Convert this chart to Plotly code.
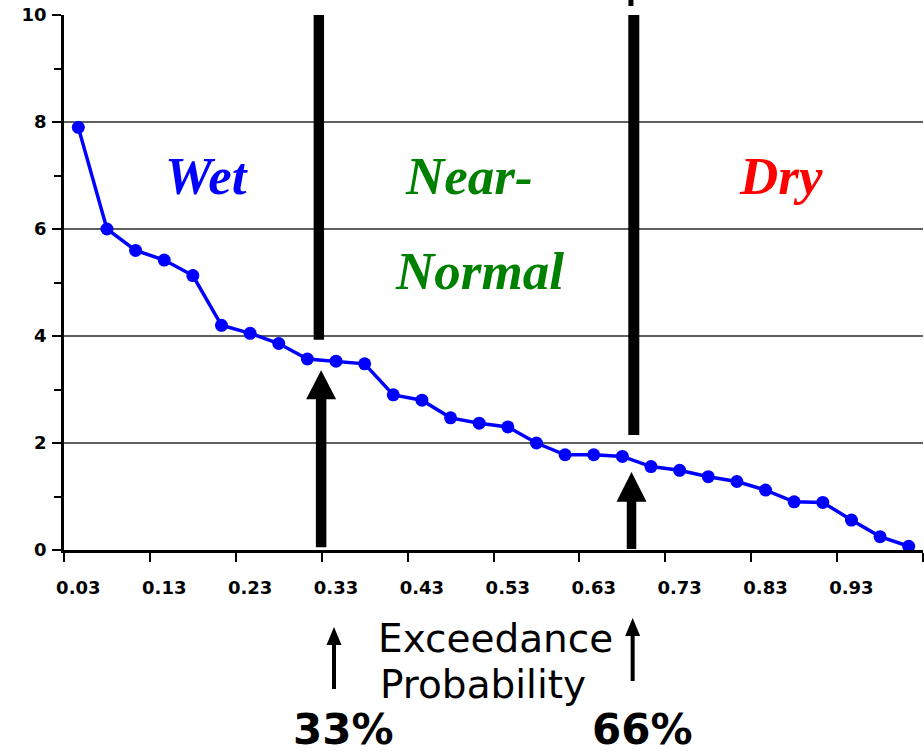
import plotly.graph_objects as go

# Ranked values, one per category (rank 1 = wettest), and probability labels
ranks = list(range(1, 31))
values = [7.9, 6.0, 5.6, 5.42, 5.13, 4.2, 4.05, 3.86, 3.57, 3.53,
          3.48, 2.9, 2.8, 2.47, 2.37, 2.3, 2.0, 1.78, 1.78, 1.75,
          1.56, 1.49, 1.37, 1.28, 1.12, 0.9, 0.89, 0.56, 0.25, 0.07]
label_ranks = list(range(1, 31, 3))
prob_labels = ["0.03", "0.13", "0.23", "0.33", "0.43",
               "0.53", "0.63", "0.73", "0.83", "0.93"]
tick_bounds = [r - 0.5 for r in range(1, 32, 3)]

# Tercile split positions (category units) and their labels
lower_split, upper_split = 9.4, 20.4
category_colors = {"Wet": "#0000FF", "Near-": "#008000",
                   "Normal": "#008000", "Dry": "#FF0000"}

W, H = 924, 755
ML, MR, MT, MB = 64, 1, 15, 205

fig = go.Figure()
fig.add_trace(go.Scatter(
    x=ranks, y=values, mode="lines+markers",
    line=dict(color="#0000FF", width=3.5),
    marker=dict(color="#0000FF", size=13),
    showlegend=False, hoverinfo="skip",
))

tick_font = dict(family="DejaVu Sans", size=18, color="black", weight=700)

fig.update_layout(
    width=W, height=H,
    margin=dict(l=ML, r=MR, t=MT, b=MB, pad=0),
    paper_bgcolor="white", plot_bgcolor="white",
    xaxis=dict(
        range=[0.5, 30.5], tickmode="array", tickvals=label_ranks,
        ticktext=prob_labels, ticks="", showgrid=False, zeroline=False,
        showline=True, linecolor="black", linewidth=2.5,
        tickfont=tick_font, ticklabelstandoff=20,
        minor=dict(tickmode="array", tickvals=tick_bounds, ticks="outside",
                   ticklen=9, tickwidth=2, tickcolor="black", showgrid=False),
    ),
    yaxis=dict(
        range=[0, 10], tickmode="array", tickvals=[0, 2, 4, 6, 8, 10],
        ticks="outside", ticklen=9, tickwidth=2, tickcolor="black",
        showgrid=True, gridcolor="#606060", gridwidth=1.5, zeroline=False,
        showline=True, linecolor="black", linewidth=2.5,
        tickfont=tick_font, ticklabelstandoff=2,
        minor=dict(dtick=1, ticks="outside", ticklen=7, tickwidth=2,
                   tickcolor="black", showgrid=False),
    ),
)

# Thick tercile divider bars
fig.add_shape(type="rect", xref="x", yref="y", xsizemode="pixel",
              xanchor=lower_split, x0=-5.2, x1=5.2, y0=3.93, y1=10,
              fillcolor="black", line_width=0)
fig.add_shape(type="rect", xref="x", yref="y", xsizemode="pixel",
              xanchor=upper_split, x0=-5.5, x1=5.5, y0=2.15, y1=10,
              fillcolor="black", line_width=0)
fig.add_shape(type="rect", xref="x", yref="paper", xsizemode="pixel",
              xanchor=upper_split - 0.1, x0=-2.5, x1=2.5,
              y0=1 + 9 / 535, y1=1 + 15 / 535,
              fillcolor="black", line_width=0)


def block_arrow(xc, y_base, y_tip, y_head, shaft, head, yref="y"):
    s, h = shaft / 2, head / 2
    path = (f"M {-s},{y_base} L {s},{y_base} L {s},{y_head} L {h},{y_head} "
            f"L 0,{y_tip} L {-h},{y_head} L {-s},{y_head} Z")
    fig.add_shape(type="path", xref="x", yref=yref, xsizemode="pixel",
                  xanchor=xc, path=path, fillcolor="black", line_width=0)


# Arrows pointing at the tercile values on the curve
block_arrow(9.48, 0.05, 3.36, 2.82, 10.5, 30)
block_arrow(20.32, 0.02, 1.46, 0.90, 9.5, 30)

# Small arrows beneath the axis
block_arrow(9.93, -0.2598, -0.1439, -0.1776, 4, 15, yref="paper")
block_arrow(20.36, -0.2449, -0.1271, -0.1608, 4, 15, yref="paper")

serif = dict(family="Liberation Serif", size=53, weight=700, style="italic")
for name, (xc, yc) in {"Wet": (5.5, 7.0), "Near-": (14.65, 7.0),
                       "Normal": (15.0, 5.22), "Dry": (25.55, 7.0)}.items():
    fig.add_annotation(x=xc, y=yc, text=name, showarrow=False,
                       font=dict(serif, color=category_colors[name]))

sans = dict(family="DejaVu Sans", size=39, color="black")
fig.add_annotation(x=11.40, y=-0.2103, xref="x", yref="paper", xanchor="left",
                   text="Exceedance", showarrow=False, font=sans)
fig.add_annotation(x=11.47, y=-0.2975, xref="x", yref="paper", xanchor="left",
                   text="Probability", showarrow=False, font=sans)

pct = dict(family="DejaVu Sans", size=42, color="black", weight=700)
for label, xc in (("33%", 10.25), ("66%", 20.72)):
    fig.add_annotation(x=xc, y=-MB / (H - MT - MB), xref="x", yref="paper",
                       yanchor="bottom", borderpad=0, text=label,
                       showarrow=False, font=pct)

fig.write_html("out.html")
